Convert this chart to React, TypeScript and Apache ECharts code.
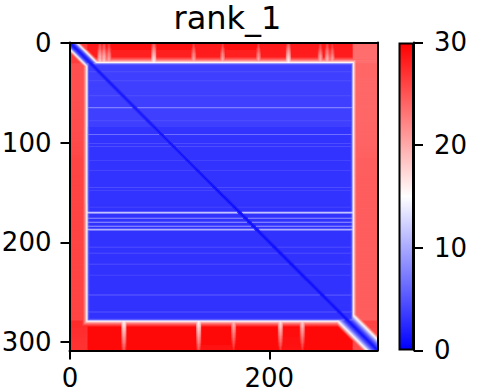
import React, { useEffect, useRef } from 'react';
import * as echarts from 'echarts';

// ---------- data ----------
const N = 309; // residues
const titleText = 'rank_1';
const xTickValues = [0, 200];
const yTickValues = [0, 100, 200, 300];
const colorMin = 0;
const colorMax = 30;
const colorTickStep = 10;
const bwrColors = ['#0000ff', '#ffffff', '#ff0000'];

// ordered domain (0-based, inclusive): aligned residues (rows) and scored residues (cols)
const domainRows = [21, 278];
const domainCols = [18, 283];

// PAE per block: rows = [N-tail, domain, C-tail], cols = [N-tail, domain, C-tail]
const blockPAE = [
  [27, 29, 24],
  [26, 2.8, 24.5],
  [27.5, 29.5, 26],
];

// PAE 1..6 residues outside a domain edge, and at / just inside the edge
const rampOut = [15, 18.5, 21.5, 24, 26, 27.5];
const rampIn = [7, 4.2];

// PAE along the diagonal, by |i - j|
const domainDiag = [0.5, 1.3, 2.2];
const nTailBand = [0.8, 1.5, 2.5, 4, 6, 9, 12.5, 16, 19.5, 23, 26];
const cTailBand = [1, 1.5, 2.5, 3.5, 4.5, 5.5, 7, 8.5, 10, 12, 14, 16, 18.5, 21, 23.5, 26];

// lighter horizontal stripes inside the domain
const stripeRows = [29, 38, 53, 65, 78, 92, 101, 104, 118, 128, 145, 148, 165, 170, 171, 176, 180, 184, 187, 188, 205, 211, 222, 233, 253, 270];
const stripePAE = [4, 3.8, 4, 8, 4, 6.5, 4.5, 4.5, 4, 4, 4.5, 4.2, 4, 12, 9.5, 8.5, 9, 9, 11, 8, 4.5, 4.5, 4.5, 4.2, 5.5, 5];

// lighter vertical streaks in the N-tail rows and the C-tail rows (PAE next to the domain, PAE at the far end)
const topSpikeCols = [30, 34, 39, 84, 124, 153, 189, 219, 251, 258, 263];
const topSpikeNear = [17, 17, 19, 15, 19, 19, 19, 15, 18, 18, 19];
const topSpikeFar = [26, 26, 27, 25, 27, 27, 27, 25, 27, 26.5, 27.5];
const bottomSpikeCols = [54, 129, 164, 211, 233];
const bottomSpikeNear = [15, 15, 18, 16, 17];
const bottomSpikeFar = [25, 25, 27.5, 26.5, 27];
// extra PAE of the columns beside a streak's centre, by offset 1, 2
const spikeSide = [1.5, 3.5];

// ---------- build the matrix (as row runs) ----------
const stripeMap = new Map<number, number>();
stripeRows.forEach((r, k) => stripeMap.set(r, stripePAE[k]));

function paeAt(i: number, j: number): number {
  const rb = i < domainRows[0] ? 0 : i > domainRows[1] ? 2 : 1;
  const cb = j < domainCols[0] ? 0 : j > domainCols[1] ? 2 : 1;
  const dr = rb === 0 ? domainRows[0] - i : rb === 2 ? i - domainRows[1] : 0;
  const dc = cb === 0 ? domainCols[0] - j : cb === 2 ? j - domainCols[1] : 0;
  let v = blockPAE[rb][cb];
  if (rb === 1 && cb === 1) {
    const s = stripeMap.get(i);
    if (s !== undefined) v = Math.max(v, s);
    const e = Math.min(i - domainRows[0], domainRows[1] - i, j - domainCols[0], domainCols[1] - j);
    if (e < rampIn.length) v = Math.max(v, rampIn[e]);
  } else {
    const d = Math.max(dr, dc);
    if (d - 1 < rampOut.length) v = Math.min(v, rampOut[d - 1]);
    if (cb === 1 && rb !== 1) {
      const top = rb === 0;
      const cols = top ? topSpikeCols : bottomSpikeCols;
      const near = top ? topSpikeNear : bottomSpikeNear;
      const far = top ? topSpikeFar : bottomSpikeFar;
      const L = top ? domainRows[0] : N - 1 - domainRows[1];
      cols.forEach((c, k) => {
        const off = Math.abs(j - c);
        if (off <= spikeSide.length) {
          const vs = near[k] + ((far[k] - near[k]) * (dr - 1)) / (L - 1) + (off > 0 ? spikeSide[off - 1] : 0);
          v = Math.min(v, vs);
        }
      });
    }
  }
  const dd = Math.abs(i - j);
  let band = domainDiag;
  if (i < domainRows[0] || j < domainCols[0]) band = nTailBand;
  else if (i > domainRows[1] || j > domainCols[1]) band = cTailBand;
  if (dd < band.length) v = Math.min(v, band[dd]);
  return Math.round(v * 2) / 2;
}

const runs: number[][] = [];
for (let i = 0; i < N; i++) {
  let start = 0;
  let cur = paeAt(i, 0);
  for (let j = 1; j <= N; j++) {
    const v = j < N ? paeAt(i, j) : NaN;
    if (v !== cur) {
      runs.push([i, start, j - 1, cur]);
      start = j;
      cur = v;
    }
  }
}

// ---------- chart ----------
const FONT = 'DejaVu Sans';
const FS = 26;
const TITLE_FS = 32;

export default function App() {
  const ref = useRef<HTMLDivElement>(null);
  useEffect(() => {
    if (!ref.current) return;
    const chart = echarts.init(ref.current, undefined, { renderer: 'svg' });
    const gridL = 69.5, gridT = 42.4, gridW = 308, gridH = 308;
    const axisCommon = {
      axisLine: { show: true, onZero: false, lineStyle: { color: '#000', width: 2 } },
      splitLine: { show: false },
      z: 5,
    };
    chart.setOption({
      animation: false,
      backgroundColor: '#ffffff',
      title: {
        text: titleText,
        left: gridL + gridW / 2 - 1,
        top: -3,
        textAlign: 'center',
        textStyle: { fontFamily: FONT, fontSize: TITLE_FS, fontWeight: 'normal', color: '#000' },
      },
      grid: [
        { left: gridL, top: gridT, width: gridW, height: gridH, containLabel: false, outerBoundsMode: 'none' },
        { left: 398.5, top: gridT, width: 15.5, height: gridH, containLabel: false, outerBoundsMode: 'none' },
      ],
      xAxis: [
        {
          ...axisCommon,
          type: 'value', gridIndex: 0, position: 'bottom', min: -0.5, max: N - 0.5,
          axisTick: { show: true, length: 9, customValues: xTickValues, lineStyle: { color: '#000', width: 2 } },
          axisLabel: {
            show: true, customValues: xTickValues, margin: 15, hideOverlap: false,
            fontFamily: FONT, fontSize: FS, color: '#000',
          },
        },
        {
          ...axisCommon,
          type: 'value', gridIndex: 0, position: 'top', min: -0.5, max: N - 0.5,
          axisTick: { show: false }, axisLabel: { show: false },
        },
        { type: 'category', gridIndex: 1, data: ['cb'], show: false },
      ],
      yAxis: [
        {
          ...axisCommon,
          type: 'value', gridIndex: 0, position: 'left', inverse: true, min: -0.5, max: N - 0.5,
          axisTick: { show: true, length: 9, customValues: yTickValues, lineStyle: { color: '#000', width: 2 } },
          axisLabel: { show: true, customValues: yTickValues, margin: 18, fontFamily: FONT, fontSize: FS, color: '#000' },
        },
        {
          ...axisCommon,
          type: 'value', gridIndex: 0, position: 'right', inverse: true, min: -0.5, max: N - 0.5,
          axisTick: { show: false }, axisLabel: { show: false },
        },
        {
          ...axisCommon,
          type: 'value', gridIndex: 1, position: 'right', min: colorMin, max: colorMax, interval: colorTickStep,
          axisTick: { show: true, length: 9, lineStyle: { color: '#000', width: 2 } },
          axisLabel: { show: true, margin: 20, fontFamily: FONT, fontSize: FS, color: '#000' },
        },
      ],
      visualMap: {
        show: false,
        type: 'continuous',
        seriesIndex: 0,
        dimension: 3,
        min: colorMin,
        max: colorMax,
        inRange: { color: bwrColors },
      },
      series: [
        {
          type: 'custom',
          xAxisIndex: 0,
          yAxisIndex: 0,
          clip: true,
          encode: { x: [1, 2], y: 0 },
          data: runs,
          renderItem: (params: any, api: any) => {
            const r = api.value(0);
            const c0 = api.value(1);
            const c1 = api.value(2);
            const p0 = api.coord([c0 - 0.5, r - 0.5]);
            const p1 = api.coord([c1 + 0.5, r + 0.5]);
            const x = Math.min(p0[0], p1[0]);
            const y = Math.min(p0[1], p1[1]);
            return {
              type: 'rect',
              shape: { x, y, width: Math.abs(p1[0] - p0[0]) + 0.5, height: Math.abs(p1[1] - p0[1]) + 0.5 },
              style: { fill: api.visual('color') },
            };
          },
        },
        {
          type: 'bar',
          xAxisIndex: 2,
          yAxisIndex: 2,
          barWidth: '100%',
          data: [colorMax],
          itemStyle: {
            color: new echarts.graphic.LinearGradient(0, 1, 0, 0, [
              { offset: 0, color: bwrColors[0] },
              { offset: 0.5, color: bwrColors[1] },
              { offset: 1, color: bwrColors[2] },
            ]),
            borderColor: '#000',
            borderWidth: 2,
          },
          silent: true,
        },
      ],
    });
    return () => chart.dispose();
  }, []);
  return <div ref={ref} style={{ position: 'fixed', left: 0, top: 0, width: 484, height: 392 }} />;
}
